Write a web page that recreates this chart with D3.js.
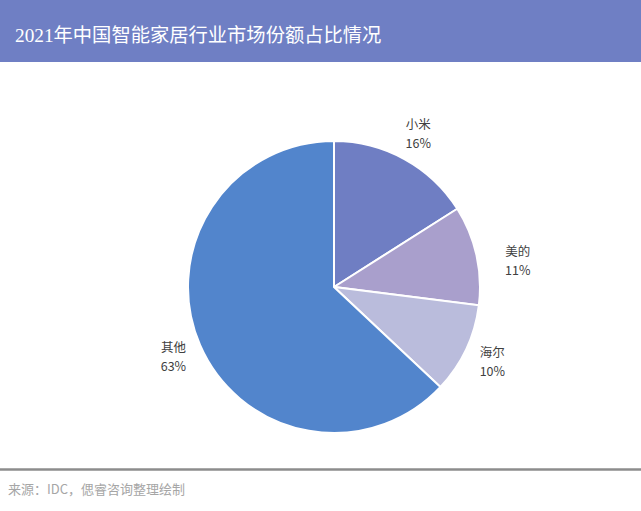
<!DOCTYPE html>
<html>
<head>
<meta charset="utf-8">
<script src="https://cdn.jsdelivr.net/npm/d3@7/dist/d3.min.js"></script>
<style>
html,body{margin:0;padding:0;background:#fff;}
svg{display:block;}
</style>
</head>
<body>
<svg id="chart" width="641" height="511"></svg>
<script>
const title = "2021年中国智能家居行业市场份额占比情况";
const source = "来源：IDC，偲睿咨询整理绘制";
const categories = ["小米", "美的", "海尔", "其他"];
const shares = [16, 11, 10, 63];
const colors = ["#6f7ec3", "#a99fcc", "#babcdc", "#5285cc"];

const W = 641, H = 511;
const svg = d3.select("#chart");

// title bar
svg.append("rect").attr("x", 0).attr("y", 0).attr("width", W).attr("height", 62).attr("fill", "#6f7fc4");
svg.append("text").attr("x", 15).attr("y", 42)
  .attr("fill", "#ffffff")
  .attr("font-family", "'Liberation Serif','Noto Sans CJK SC',serif")
  .attr("font-size", 19.3)
  .text(title);

// pie
const cx = 334, cy = 287, r = 146;
const data = categories.map((c, i) => ({ name: c, value: shares[i], color: colors[i] }));
const pie = d3.pie().value(d => d.value).sort(null);
const arcs = pie(data);
const arc = d3.arc().innerRadius(0).outerRadius(r);
const labelArc = d3.arc().innerRadius(175).outerRadius(175);

const g = svg.append("g").attr("transform", `translate(${cx},${cy})`);
g.selectAll("path.slice").data(arcs).enter().append("path")
  .attr("class", "slice")
  .attr("d", arc)
  .attr("fill", d => d.data.color)
  .attr("stroke", "#ffffff")
  .attr("stroke-width", 2);

const lbl = g.selectAll("g.lbl").data(arcs).enter().append("g")
  .attr("class", "lbl")
  .attr("transform", d => {
    const [x, y] = labelArc.centroid(d);
    // push near-horizontal labels outward by half their width (outside-end style)
    const mid = (d.startAngle + d.endAngle) / 2;
    const s = Math.sin(mid), c = Math.cos(mid);
    const dx = Math.abs(c) < 0.3 ? 13 * Math.sign(s) : 0;
    const dy = Math.abs(c) < 0.3 ? 12 : 0;
    return `translate(${x + dx},${y + dy})`;
  });
const tStyle = sel => sel.attr("text-anchor", "middle")
  .attr("font-family", "'Noto Sans CJK SC','Noto Sans',sans-serif")
  .attr("font-size", 12.5)
  .attr("fill", "#404040");
lbl.append("text").call(tStyle).attr("y", -4.5).text(d => d.data.name);
lbl.append("text").call(tStyle).attr("y", 14).text(d => d.data.value + "%");

// footer
svg.append("line").attr("x1", 0).attr("x2", W).attr("y1", 469.5).attr("y2", 469.5)
  .attr("stroke", "#8c8c8c").attr("stroke-width", 2.5);
svg.append("text").attr("x", 8).attr("y", 494)
  .attr("fill", "#a6a6a6")
  .attr("font-family", "'Noto Sans CJK SC','Noto Sans',sans-serif")
  .attr("font-size", 13)
  .text(source);
</script>
</body>
</html>
